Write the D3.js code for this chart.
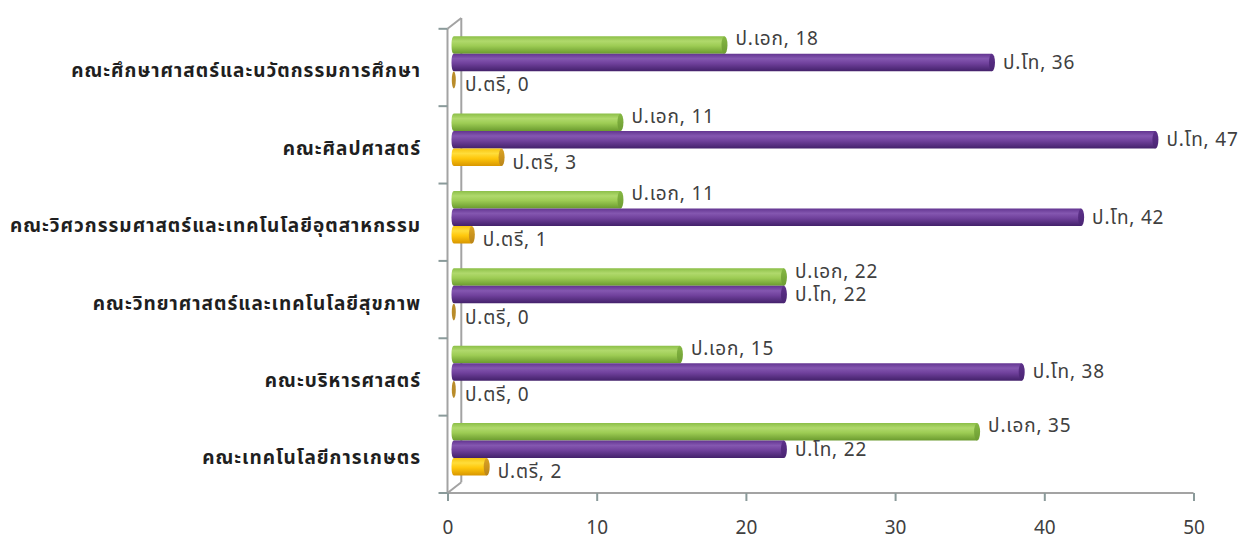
<!DOCTYPE html>
<html>
<head>
<meta charset="utf-8">
<script src="https://cdn.jsdelivr.net/npm/d3@7"></script>
<style>
  html, body { margin: 0; padding: 0; background: #ffffff; }
  svg { display: block; }
  text { font-family: "Noto Sans Thai", "Noto Sans Thai UI", "Noto Sans", "DejaVu Sans", sans-serif; }
</style>
</head>
<body>
<svg id="chart" width="1242" height="538"></svg>
<script>
// Faculties, top to bottom
const categories = [
  "คณะศึกษาศาสตร์และนวัตกรรมการศึกษา",
  "คณะศิลปศาสตร์",
  "คณะวิศวกรรมศาสตร์และเทคโนโลยีอุตสาหกรรม",
  "คณะวิทยาศาสตร์และเทคโนโลยีสุขภาพ",
  "คณะบริหารศาสตร์",
  "คณะเทคโนโลยีการเกษตร"
];
// Degree levels, drawn top to bottom inside each faculty group
const seriesNames = ["ป.เอก", "ป.โท", "ป.ตรี"];
const phdValues = [18, 11, 11, 22, 15, 35];
const masterValues = [36, 47, 42, 22, 38, 22];
const bachelorValues = [0, 3, 1, 0, 0, 2];
const xTickValues = [0, 10, 20, 30, 40, 50];

const seriesValues = [phdValues, masterValues, bachelorValues];

// cylinder palettes: [top, highlight, mid, bottom, cap, capDark]
const palettes = [
  ["#8cbf48", "#b0d96c", "#9dcc54", "#6a9a2e", "#86b844", "#6d9c32"],
  ["#633591", "#8457b0", "#70419c", "#43216a", "#5e318b", "#4a2573"],
  ["#f7c510", "#ffdd3a", "#ffc80c", "#d89600", "#dca424", "#b98419"]
];
const zeroColor = "#b98c2a";

const svg = d3.select("#chart");
const defs = svg.append("defs");

// Plot frame (front plane) and depth offset of the back wall
const frontX = 447.5, axisEndX = 1193.5;
const topY = 28.8, floorY = 493;
const depthX = 13.8, depthY = -10.8;

const x = d3.scaleLinear().domain([0, 50]).range([frontX, axisEndX]);
// bars sit deeper in the scene: slightly different origin and scale
const xBar = d3.scaleLinear().domain([0, 50]).range([457, 457 + 50 * 14.86]);
const barStartX = 452;

const y = d3.scaleBand().domain(categories).range([topY, floorY]);
const groupH = 52.5;
const groupShift = -5;
const inner = d3.scaleBand().domain(seriesNames).range([0, groupH]);

// gradients
palettes.forEach((p, i) => {
  const g = defs.append("linearGradient")
    .attr("id", "body" + i).attr("x1", 0).attr("y1", 0).attr("x2", 0).attr("y2", 1);
  g.append("stop").attr("offset", "0%").attr("stop-color", p[0]);
  g.append("stop").attr("offset", "28%").attr("stop-color", p[1]);
  g.append("stop").attr("offset", "55%").attr("stop-color", p[2]);
  g.append("stop").attr("offset", "100%").attr("stop-color", p[3]);
  const c = defs.append("linearGradient")
    .attr("id", "cap" + i).attr("x1", 0).attr("y1", 0).attr("x2", 0).attr("y2", 1);
  c.append("stop").attr("offset", "0%").attr("stop-color", p[4]);
  c.append("stop").attr("offset", "100%").attr("stop-color", p[5]);
});

const lineColor = "#a3a3a3";
const tickColor = "#8a9a9a";

// back wall edge (behind the bars)
svg.append("line")
  .attr("x1", frontX + depthX).attr("y1", topY + depthY)
  .attr("x2", frontX + depthX).attr("y2", floorY + depthY)
  .attr("stroke", lineColor).attr("stroke-width", 2);

// bars
const rx = 3;
const barData = [];
categories.forEach((cat, ci) => {
  seriesNames.forEach((s, si) => {
    barData.push({ cat, s, si, v: seriesValues[si][ci] });
  });
});

const bars = svg.append("g").selectAll("g").data(barData).join("g");

bars.each(function (d) {
  const g = d3.select(this);
  const y0 = y(d.cat) + y.bandwidth() / 2 - groupH / 2 + groupShift + inner(d.s);
  const h = inner.bandwidth();
  const cy = y0 + h / 2;
  if (d.v === 0) {
    g.append("ellipse")
      .attr("cx", barStartX + 1.8).attr("cy", cy)
      .attr("rx", 2).attr("ry", h / 2 - 0.3)
      .attr("fill", zeroColor);
    return;
  }
  const xe = xBar(d.v);
  // body with rounded left end
  const path = d3.path();
  path.moveTo(xe, y0);
  path.lineTo(barStartX + 2, y0);
  path.quadraticCurveTo(barStartX - 0.5, y0, barStartX - 0.5, cy);
  path.quadraticCurveTo(barStartX - 0.5, y0 + h, barStartX + 2, y0 + h);
  path.lineTo(xe, y0 + h);
  path.closePath();
  g.append("path").attr("d", path.toString()).attr("fill", `url(#body${d.si})`);
  g.append("ellipse")
    .attr("cx", xe).attr("cy", cy)
    .attr("rx", rx).attr("ry", h / 2)
    .attr("fill", `url(#cap${d.si})`);
});

// front wall edge and its top/bottom connectors
svg.append("line")
  .attr("x1", frontX).attr("y1", topY).attr("x2", frontX).attr("y2", floorY)
  .attr("stroke", lineColor).attr("stroke-width", 2);
svg.append("line")
  .attr("x1", frontX).attr("y1", topY).attr("x2", frontX + depthX).attr("y2", topY + depthY)
  .attr("stroke", lineColor).attr("stroke-width", 2);
svg.append("line")
  .attr("x1", frontX).attr("y1", floorY).attr("x2", frontX + depthX).attr("y2", floorY + depthY)
  .attr("stroke", lineColor).attr("stroke-width", 2);

// category boundary ticks on the left edge
const boundaries = categories.map(c => y(c)).concat([floorY]);
svg.append("g").selectAll("line").data(boundaries).join("line")
  .attr("x1", frontX - 9).attr("x2", frontX)
  .attr("y1", d => d).attr("y2", d => d)
  .attr("stroke", tickColor).attr("stroke-width", 2);

// bottom value axis
const xAxis = d3.axisBottom(x).tickValues(xTickValues).tickSize(8).tickPadding(0)
  .tickFormat(d3.format("d"));
const axG = svg.append("g").attr("transform", `translate(0,${floorY})`).call(xAxis);
axG.select(".domain").attr("stroke", lineColor).attr("stroke-width", 2)
  .attr("d", `M${frontX},0H${axisEndX}`);
axG.selectAll(".tick line").attr("stroke", tickColor).attr("stroke-width", 2);
axG.selectAll(".tick text")
  .attr("y", 41).attr("dy", null)
  .attr("fill", "#404040").attr("font-size", 19)
  .style("font-family", '"Noto Sans", "DejaVu Sans", sans-serif');

// category labels
svg.append("g").selectAll("text").data(categories).join("text")
  .attr("x", 421)
  .attr("y", d => y(d) + y.bandwidth() / 2 + 10)
  .attr("text-anchor", "end")
  .attr("font-size", 19)
  .attr("letter-spacing", 1)
  .attr("font-weight", "bold")
  .attr("fill", "#1f1f1f")
  .text(d => d);

// data labels
const labelDy = [-6, 0, 5];
svg.append("g").selectAll("text").data(barData).join("text")
  .attr("x", d => d.v === 0 ? barStartX + 13 : xBar(d.v) + rx + 8)
  .attr("y", d => y(d.cat) + y.bandwidth() / 2 - groupH / 2 + groupShift
    + inner(d.s) + inner.bandwidth() / 2 + labelDy[d.si] + 6.5)
  .attr("font-size", 19)
  .attr("letter-spacing", 0.8)
  .attr("fill", "#404040")
  .text(d => `${d.s}, ${d.v}`);
</script>
</body>
</html>
